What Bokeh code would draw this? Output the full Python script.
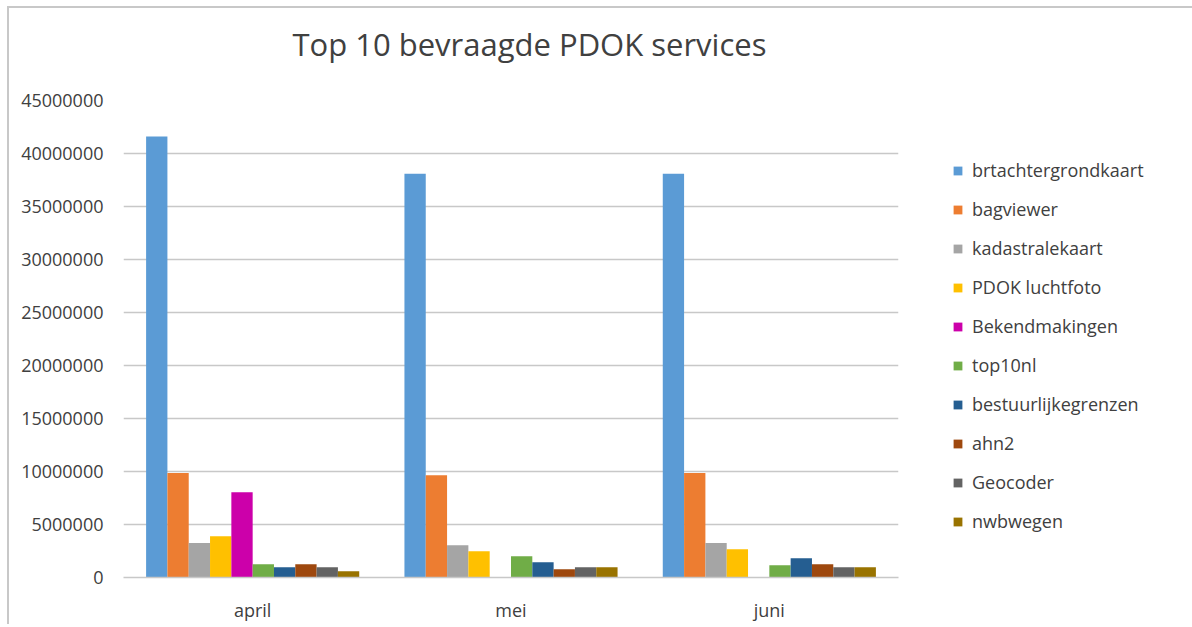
from bokeh.plotting import figure
from bokeh.models import FactorRange, Range1d, FixedTicker, NumeralTickFormatter, Legend, LegendItem, ColumnDataSource, Title
from bokeh.transform import dodge
from bokeh.embed import file_html
from bokeh.resources import INLINE

months = ["april", "mei", "juni"]
services = ["brtachtergrondkaart", "bagviewer", "kadastralekaart", "PDOK luchtfoto",
            "Bekendmakingen", "top10nl", "bestuurlijkegrenzen", "ahn2", "Geocoder", "nwbwegen"]
brtachtergrondkaart = [41600000, 38100000, 38100000]
bagviewer = [9850000, 9650000, 9850000]
kadastralekaart = [3250000, 3050000, 3250000]
pdok_luchtfoto = [3900000, 2480000, 2670000]
bekendmakingen = [8050000, 0, 0]
top10nl = [1250000, 2000000, 1160000]
bestuurlijkegrenzen = [970000, 1440000, 1820000]
ahn2 = [1250000, 780000, 1250000]
geocoder = [970000, 970000, 970000]
nwbwegen = [600000, 970000, 970000]
series = [brtachtergrondkaart, bagviewer, kadastralekaart, pdok_luchtfoto, bekendmakingen,
          top10nl, bestuurlijkegrenzen, ahn2, geocoder, nwbwegen]
colors = ["#5B9BD5", "#ED7D31", "#A5A5A5", "#FFC000", "#CC00AA",
          "#70AD47", "#255E91", "#9E480E", "#636363", "#997300"]
y_ticks = [0, 5000000, 10000000, 15000000, 20000000, 25000000, 30000000, 35000000, 40000000, 45000000]
title_text = "Top 10 bevraagde PDOK services"

FONT = "Open Sans"
TXT = "#404040"

data = {"month": months}
for i, s in enumerate(series):
    data["s%d" % i] = s
source = ColumnDataSource(data)

p = figure(x_range=FactorRange(*months), y_range=Range1d(0, 45000000),
           frame_width=775, frame_height=477, output_backend="svg", toolbar_location=None,
           min_border_left=114, min_border_right=0, min_border_top=92, min_border_bottom=0)
p.margin = (6, 0, 0, 7)
p.styles = {"border-left": "2px solid #c8c8c8", "border-top": "2px solid #c8c8c8"}

# spacer between frame and title
p.add_layout(Title(text=" ", text_font_size="1px", standoff=28), "above")
p.add_layout(Title(text=title_text, text_font=FONT, text_font_size="31px",
                   text_font_style="normal", text_color=TXT, align="left",
                   offset=169, standoff=10), "above")

w = 0.0825
items = []
for i, (name, col) in enumerate(zip(services, colors)):
    r = p.vbar(x=dodge("month", (i - 4.5) * w, range=p.x_range), top="s%d" % i, width=w,
               source=source, fill_color=col, line_color=None)
    items.append(LegendItem(label=name, renderers=[r]))

legend = Legend(items=items, location=(54, 44), orientation="vertical",
                label_text_font=FONT, label_text_font_size="18px", label_text_color=TXT,
                glyph_width=11, glyph_height=11, label_height=23, spacing=15,
                label_standoff=9, padding=0, margin=0, border_line_color=None,
                background_fill_alpha=0)
p.add_layout(legend, "right")

p.yaxis.ticker = FixedTicker(ticks=y_ticks)
p.yaxis.formatter = NumeralTickFormatter(format="0")
p.yaxis.axis_line_color = None
p.yaxis.major_tick_line_color = None
p.yaxis.minor_tick_line_color = None
p.yaxis.major_label_standoff = 14
p.yaxis.major_label_text_font = FONT
p.yaxis.major_label_text_font_size = "18px"
p.yaxis.major_label_text_color = TXT

p.xaxis.axis_line_color = "#c8c8c8"
p.xaxis.axis_line_width = 1.5
p.xaxis.major_tick_line_color = None
p.xaxis.minor_tick_line_color = None
p.xaxis.major_label_standoff = 14
p.xaxis.major_label_text_font = FONT
p.xaxis.major_label_text_font_size = "18px"
p.xaxis.major_label_text_color = TXT

p.xgrid.grid_line_color = None
p.ygrid.grid_line_color = "#c8c8c8"
p.ygrid.grid_line_width = 1.5
p.outline_line_color = None

open("out.html", "w").write(file_html(p, INLINE))
